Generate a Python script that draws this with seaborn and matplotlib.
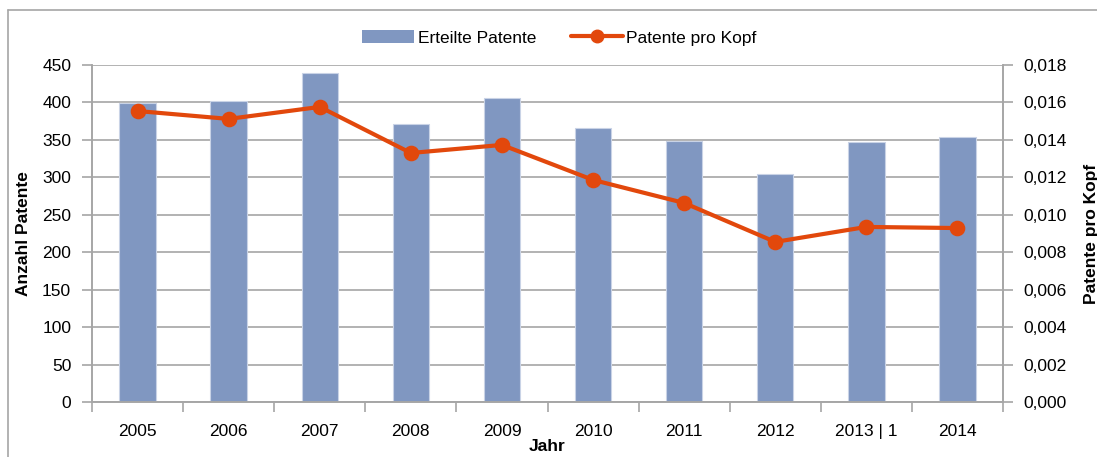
import matplotlib
matplotlib.use('Agg')
import matplotlib.pyplot as plt
import seaborn as sns
import numpy as np
from matplotlib.lines import Line2D
from matplotlib.patches import Patch
from matplotlib.ticker import FixedLocator, FuncFormatter

# Data
years = ['2005', '2006', '2007', '2008', '2009', '2010', '2011', '2012', '2013 | 1', '2014']
patents = [399, 402, 439, 371, 406, 366, 348, 304, 347, 354]
per_capita = [0.01554, 0.01512, 0.01576, 0.0133, 0.01373, 0.01186, 0.01063, 0.00855, 0.00935, 0.00929]

bar_color = '#8097C1'
line_color = '#E2480C'
grid_color = '#A6A6A6'

sns.set_theme(style='white')
plt.rcParams['font.family'] = ['Liberation Sans', 'DejaVu Sans']
plt.rcParams['text.color'] = 'black'
plt.rcParams['axes.labelcolor'] = 'black'
plt.rcParams['xtick.color'] = 'black'
plt.rcParams['ytick.color'] = 'black'

fig = plt.figure(figsize=(10.97, 4.57), dpi=100)
ax = fig.add_axes([0.0839, 0.1204, 0.8304, 0.7374])

sns.barplot(x=years, y=patents, ax=ax, color=bar_color, width=0.4,
            saturation=1, edgecolor='#C9D3E6', linewidth=0.8, zorder=2)
ax.set_ylim(0, 450)
ax.set_yticks(np.arange(0, 451, 50))
ax.yaxis.grid(True, color=grid_color, linewidth=1.2, zorder=0)
ax.set_axisbelow(True)
ax.set_xlim(-0.5, len(years) - 0.5)

# second axis for per-capita values
ax2 = ax.twinx()
sns.pointplot(x=years, y=per_capita, ax=ax2, color=line_color,
              markers='o', markersize=9, linewidth=3)
ax2.set_ylim(0, 0.018)
ax2.set_yticks(np.arange(0, 0.0181, 0.002))
ax2.yaxis.set_major_formatter(FuncFormatter(lambda v, p: f'{v:.3f}'.replace('.', ',')))
ax2.set_xlim(-0.5, len(years) - 0.5)

for a in (ax, ax2):
    for s in a.spines.values():
        s.set_color(grid_color)
        s.set_linewidth(1.2)
    a.spines['top'].set_visible(False)
    a.set_xlabel('')
    a.set_ylabel('')

ax.tick_params(axis='y', which='major', left=True, length=7, width=1.2,
               color=grid_color, labelcolor='black', labelsize=12.5, pad=8)
ax2.tick_params(axis='y', which='major', right=True, length=7, width=1.2,
                color=grid_color, labelcolor='black', labelsize=12.5, pad=8)

# x ticks: marks between categories, labels centred under bars
ax.set_xticks(range(len(years)))
ax.set_xticklabels(years)
ax.xaxis.set_minor_locator(FixedLocator(np.arange(-0.5, len(years), 1.0)))
ax.tick_params(axis='x', which='major', bottom=False, labelsize=12.5,
               labelcolor='black', pad=10)
ax.tick_params(axis='x', which='minor', bottom=True, length=7, width=1.2, color=grid_color)

ax.set_ylabel('Anzahl Patente', fontsize=12.5, fontweight='bold', labelpad=8)
ax.set_xlabel('Jahr', fontsize=12.5, fontweight='bold', labelpad=0)
ax2.set_ylabel('Patente pro Kopf', fontsize=12.5, fontweight='bold', labelpad=12)

handles = [Patch(facecolor=bar_color, edgecolor='none'),
           Line2D([0], [0], color=line_color, linewidth=3, marker='o', markersize=9)]
fig.legend(handles, ['Erteilte Patente', 'Patente pro Kopf'], loc='center',
           bbox_to_anchor=(0.51, 0.917), ncol=2, frameon=False, fontsize=12.5,
           handlelength=3, handletextpad=0.2, columnspacing=2.0)

# outer chart frame
fig.add_artist(Line2D([8 / 1097, 8 / 1097], [0, 1 - 10 / 457], color=grid_color,
                      linewidth=1.2, transform=fig.transFigure))
fig.add_artist(Line2D([8 / 1097, 1], [1 - 10 / 457, 1 - 10 / 457], color=grid_color,
                      linewidth=1.2, transform=fig.transFigure))

fig.savefig('out.png', dpi=100)
